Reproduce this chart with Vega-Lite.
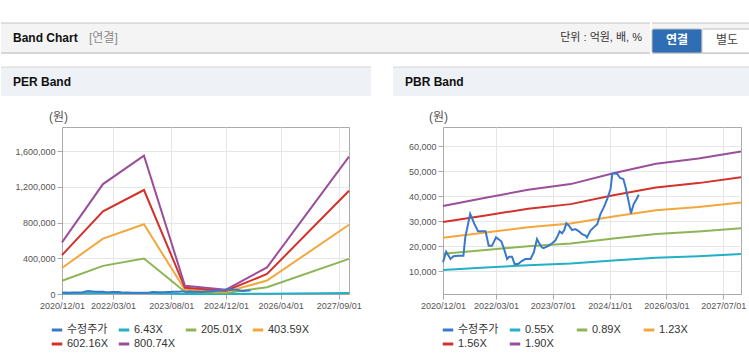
{
  "$schema": "https://vega.github.io/schema/vega-lite/v6.json",
  "background": "white",
  "padding": {"left": 0, "top": 22, "right": 0, "bottom": 0},
  "config": {
    "font": "Liberation Sans, Noto Sans CJK KR",
    "view": {"stroke": null},
    "axis": {
      "labelFont": "Liberation Sans, Noto Sans CJK KR",
      "labelFontSize": 9,
      "labelColor": "#555555",
      "labelOverlap": false,
      "labelSeparation": 0,
      "domainColor": "#aaaaaa",
      "tickColor": "#aaaaaa",
      "tickSize": 5,
      "gridColor": "#e6e6e6",
      "labelPadding": 2,
      "titleFont": "Liberation Sans, Noto Sans CJK KR",
      "titleFontSize": 12,
      "titleFontWeight": "normal",
      "titleColor": "#555555"
    },
    "legend": {
      "orient": "none",
      "direction": "horizontal",
      "columns": 4,
      "symbolType": "stroke",
      "symbolStrokeWidth": 3,
      "symbolSize": 110,
      "labelFont": "Liberation Sans, Noto Sans CJK KR",
      "labelFontSize": 11,
      "labelColor": "#333333",
      "labelOffset": 3,
      "gridAlign": "all",
      "columnPadding": 4,
      "rowPadding": 1
    }
  },
  "datasets": {
    "perBand": [
      {"date": "2020-12-01", "series": "6.43X", "value": 4649},
      {"date": "2021-12-01", "series": "6.43X", "value": 9896},
      {"date": "2022-12-01", "series": "6.43X", "value": 12448},
      {"date": "2023-12-01", "series": "6.43X", "value": 746},
      {"date": "2024-12-01", "series": "6.43X", "value": 386},
      {"date": "2025-12-01", "series": "6.43X", "value": 2398},
      {"date": "2027-12-01", "series": "6.43X", "value": 12365},
      {"date": "2020-12-01", "series": "205.01X", "value": 148222},
      {"date": "2021-12-01", "series": "205.01X", "value": 315510},
      {"date": "2022-12-01", "series": "205.01X", "value": 396899},
      {"date": "2023-12-01", "series": "205.01X", "value": 23781},
      {"date": "2024-12-01", "series": "205.01X", "value": 12301},
      {"date": "2025-12-01", "series": "205.01X", "value": 76469},
      {"date": "2027-12-01", "series": "205.01X", "value": 394234},
      {"date": "2020-12-01", "series": "403.59X", "value": 291796},
      {"date": "2021-12-01", "series": "403.59X", "value": 621125},
      {"date": "2022-12-01", "series": "403.59X", "value": 781350},
      {"date": "2023-12-01", "series": "403.59X", "value": 46816},
      {"date": "2024-12-01", "series": "403.59X", "value": 24215},
      {"date": "2025-12-01", "series": "403.59X", "value": 150539},
      {"date": "2027-12-01", "series": "403.59X", "value": 776104},
      {"date": "2020-12-01", "series": "602.16X", "value": 435362},
      {"date": "2021-12-01", "series": "602.16X", "value": 926724},
      {"date": "2022-12-01", "series": "602.16X", "value": 1165782},
      {"date": "2023-12-01", "series": "602.16X", "value": 69851},
      {"date": "2024-12-01", "series": "602.16X", "value": 36130},
      {"date": "2025-12-01", "series": "602.16X", "value": 224606},
      {"date": "2027-12-01", "series": "602.16X", "value": 1157954},
      {"date": "2020-12-01", "series": "800.74X", "value": 578935},
      {"date": "2021-12-01", "series": "800.74X", "value": 1232339},
      {"date": "2022-12-01", "series": "800.74X", "value": 1550233},
      {"date": "2023-12-01", "series": "800.74X", "value": 92886},
      {"date": "2024-12-01", "series": "800.74X", "value": 48044},
      {"date": "2025-12-01", "series": "800.74X", "value": 298676},
      {"date": "2027-12-01", "series": "800.74X", "value": 1539823}
    ],
    "pbrBand": [
      {"date": "2020-12-01", "series": "0.55X", "value": 10450},
      {"date": "2021-12-01", "series": "0.55X", "value": 11385},
      {"date": "2022-12-01", "series": "0.55X", "value": 12320},
      {"date": "2023-12-01", "series": "0.55X", "value": 12980},
      {"date": "2024-12-01", "series": "0.55X", "value": 14245},
      {"date": "2025-12-01", "series": "0.55X", "value": 15345},
      {"date": "2026-12-01", "series": "0.55X", "value": 15950},
      {"date": "2027-12-01", "series": "0.55X", "value": 16775},
      {"date": "2020-12-01", "series": "0.89X", "value": 16910},
      {"date": "2021-12-01", "series": "0.89X", "value": 18423},
      {"date": "2022-12-01", "series": "0.89X", "value": 19936},
      {"date": "2023-12-01", "series": "0.89X", "value": 21004},
      {"date": "2024-12-01", "series": "0.89X", "value": 23051},
      {"date": "2025-12-01", "series": "0.89X", "value": 24831},
      {"date": "2026-12-01", "series": "0.89X", "value": 25810},
      {"date": "2027-12-01", "series": "0.89X", "value": 27145},
      {"date": "2020-12-01", "series": "1.23X", "value": 23370},
      {"date": "2021-12-01", "series": "1.23X", "value": 25461},
      {"date": "2022-12-01", "series": "1.23X", "value": 27552},
      {"date": "2023-12-01", "series": "1.23X", "value": 29028},
      {"date": "2024-12-01", "series": "1.23X", "value": 31857},
      {"date": "2025-12-01", "series": "1.23X", "value": 34317},
      {"date": "2026-12-01", "series": "1.23X", "value": 35670},
      {"date": "2027-12-01", "series": "1.23X", "value": 37515},
      {"date": "2020-12-01", "series": "1.56X", "value": 29640},
      {"date": "2021-12-01", "series": "1.56X", "value": 32292},
      {"date": "2022-12-01", "series": "1.56X", "value": 34944},
      {"date": "2023-12-01", "series": "1.56X", "value": 36816},
      {"date": "2024-12-01", "series": "1.56X", "value": 40404},
      {"date": "2025-12-01", "series": "1.56X", "value": 43524},
      {"date": "2026-12-01", "series": "1.56X", "value": 45240},
      {"date": "2027-12-01", "series": "1.56X", "value": 47580},
      {"date": "2020-12-01", "series": "1.90X", "value": 36100},
      {"date": "2021-12-01", "series": "1.90X", "value": 39330},
      {"date": "2022-12-01", "series": "1.90X", "value": 42560},
      {"date": "2023-12-01", "series": "1.90X", "value": 44840},
      {"date": "2024-12-01", "series": "1.90X", "value": 49210},
      {"date": "2025-12-01", "series": "1.90X", "value": 53010},
      {"date": "2026-12-01", "series": "1.90X", "value": 55100},
      {"date": "2027-12-01", "series": "1.90X", "value": 57950}
    ],
    "price": [
      {"date": "2020-12-01", "series": "수정주가", "value": 13500},
      {"date": "2020-12-28", "series": "수정주가", "value": 17700},
      {"date": "2021-02-04", "series": "수정주가", "value": 14800},
      {"date": "2021-03-01", "series": "수정주가", "value": 15900},
      {"date": "2021-04-13", "series": "수정주가", "value": 16100},
      {"date": "2021-05-25", "series": "수정주가", "value": 16100},
      {"date": "2021-06-10", "series": "수정주가", "value": 23500},
      {"date": "2021-07-22", "series": "수정주가", "value": 32900},
      {"date": "2021-08-28", "series": "수정주가", "value": 28800},
      {"date": "2021-09-28", "series": "수정주가", "value": 25900},
      {"date": "2021-12-01", "series": "수정주가", "value": 25900},
      {"date": "2021-12-28", "series": "수정주가", "value": 20100},
      {"date": "2022-01-25", "series": "수정주가", "value": 20100},
      {"date": "2022-03-01", "series": "수정주가", "value": 23500},
      {"date": "2022-04-15", "series": "수정주가", "value": 21900},
      {"date": "2022-05-04", "series": "수정주가", "value": 19500},
      {"date": "2022-06-04", "series": "수정주가", "value": 14800},
      {"date": "2022-06-22", "series": "수정주가", "value": 15700},
      {"date": "2022-07-16", "series": "수정주가", "value": 15700},
      {"date": "2022-08-07", "series": "수정주가", "value": 12800},
      {"date": "2022-09-07", "series": "수정주가", "value": 12800},
      {"date": "2022-10-10", "series": "수정주가", "value": 14100},
      {"date": "2022-11-07", "series": "수정주가", "value": 14800},
      {"date": "2022-12-22", "series": "수정주가", "value": 14800},
      {"date": "2023-01-19", "series": "수정주가", "value": 17500},
      {"date": "2023-02-15", "series": "수정주가", "value": 22800},
      {"date": "2023-03-01", "series": "수정주가", "value": 21500},
      {"date": "2023-03-28", "series": "수정주가", "value": 19500},
      {"date": "2023-04-12", "series": "수정주가", "value": 19200},
      {"date": "2023-05-25", "series": "수정주가", "value": 20100},
      {"date": "2023-06-25", "series": "수정주가", "value": 21100},
      {"date": "2023-07-22", "series": "수정주가", "value": 22200},
      {"date": "2023-08-13", "series": "수정주가", "value": 24200},
      {"date": "2023-08-28", "series": "수정주가", "value": 25900},
      {"date": "2023-09-19", "series": "수정주가", "value": 25100},
      {"date": "2023-10-07", "series": "수정주가", "value": 26400},
      {"date": "2023-10-25", "series": "수정주가", "value": 29100},
      {"date": "2023-11-16", "series": "수정주가", "value": 28200},
      {"date": "2023-12-13", "series": "수정주가", "value": 26400},
      {"date": "2024-01-10", "series": "수정주가", "value": 26800},
      {"date": "2024-02-10", "series": "수정주가", "value": 25900},
      {"date": "2024-03-07", "series": "수정주가", "value": 24800},
      {"date": "2024-04-07", "series": "수정주가", "value": 24200},
      {"date": "2024-04-19", "series": "수정주가", "value": 23500},
      {"date": "2024-05-19", "series": "수정주가", "value": 26200},
      {"date": "2024-06-16", "series": "수정주가", "value": 27500},
      {"date": "2024-07-16", "series": "수정주가", "value": 28800},
      {"date": "2024-08-13", "series": "수정주가", "value": 32900},
      {"date": "2024-09-10", "series": "수정주가", "value": 35500},
      {"date": "2024-10-10", "series": "수정주가", "value": 38900},
      {"date": "2024-11-07", "series": "수정주가", "value": 42900},
      {"date": "2024-11-22", "series": "수정주가", "value": 48900},
      {"date": "2024-12-07", "series": "수정주가", "value": 49200},
      {"date": "2025-01-04", "series": "수정주가", "value": 48900},
      {"date": "2025-01-28", "series": "수정주가", "value": 47300},
      {"date": "2025-02-25", "series": "수정주가", "value": 46900},
      {"date": "2025-03-16", "series": "수정주가", "value": 43600},
      {"date": "2025-04-13", "series": "수정주가", "value": 37500},
      {"date": "2025-05-01", "series": "수정주가", "value": 33100},
      {"date": "2025-05-25", "series": "수정주가", "value": 36900},
      {"date": "2025-06-19", "series": "수정주가", "value": 38900},
      {"date": "2025-07-07", "series": "수정주가", "value": 40600}
    ]
  },
  "spacing": 12,
  "vconcat": [
    {
      "spacing": 0,
      "hconcat": [
        {
          "width": 649,
          "height": 30,
          "view": {"fill": "#f4f4f4", "stroke": null},
          "layer": [
            {
              "data": {"values": [{"edge": "top"}]},
              "mark": {"type": "rule", "color": "#c4c4c4", "strokeWidth": 1},
              "encoding": {"y": {"datum": 1, "type": "quantitative", "scale": {"domain": [0, 1]}, "axis": null}}
            },
            {
              "data": {"values": [{"edge": "bottom"}]},
              "mark": {"type": "rule", "color": "#d6d6d6", "strokeWidth": 2},
              "encoding": {"y": {"datum": 0, "type": "quantitative", "scale": {"domain": [0, 1]}, "axis": null}}
            },
            {
              "data": {"values": [{"label": "Band Chart"}]},
              "mark": {"type": "text", "align": "left", "baseline": "middle", "dx": 12, "fontSize": 12, "fontWeight": "bold", "color": "#111111"},
              "encoding": {
                "x": {"datum": 0, "type": "quantitative", "scale": {"domain": [0, 1]}, "axis": null},
                "text": {"field": "label"}
              }
            },
            {
              "data": {"values": [{"label": "[연결]"}]},
              "mark": {"type": "text", "align": "left", "baseline": "middle", "dx": 88, "fontSize": 12, "color": "#8a8a8a"},
              "encoding": {
                "x": {"datum": 0, "type": "quantitative", "scale": {"domain": [0, 1]}, "axis": null},
                "text": {"field": "label"}
              }
            },
            {
              "data": {"values": [{"label": "단위 : 억원, 배, %"}]},
              "mark": {"type": "text", "align": "right", "baseline": "middle", "dx": -8, "fontSize": 11, "color": "#333333"},
              "encoding": {
                "x": {"datum": 1, "type": "quantitative", "scale": {"domain": [0, 1]}, "axis": null},
                "text": {"field": "label"}
              }
            }
          ]
        },
        {
          "width": 100,
          "height": 30,
          "view": {"fill": "#f4f4f4", "stroke": null},
          "layer": [
            {
              "data": {"values": [{"edge": "top"}]},
              "mark": {"type": "rule", "color": "#c4c4c4", "strokeWidth": 1},
              "encoding": {"y": {"datum": 1, "type": "quantitative", "scale": {"domain": [0, 1]}, "axis": null}}
            },
            {
              "data": {"values": [{"edge": "bottom"}]},
              "mark": {"type": "rule", "color": "#d6d6d6", "strokeWidth": 2},
              "encoding": {"y": {"datum": 0, "type": "quantitative", "scale": {"domain": [0, 1]}, "axis": null}}
            },
            {
              "data": {"values": [{"button": "연결", "on": "y"}, {"button": "별도", "on": "n"}]},
              "mark": {"type": "rect", "yOffset": 6, "y2Offset": -3, "stroke": "#bdbdbd", "strokeWidth": 1, "cornerRadius": 2},
              "encoding": {
                "x": {"field": "button", "type": "nominal", "sort": null, "scale": {"domain": ["연결", "별도"], "paddingInner": 0, "paddingOuter": 0}, "axis": null},
                "fill": {"field": "on", "type": "nominal", "scale": {"domain": ["y", "n"], "range": ["#2f6db5", "#ffffff"]}, "legend": null}
              }
            },
            {
              "data": {"values": [{"button": "연결", "on": "y"}]},
              "mark": {"type": "text", "baseline": "middle", "dy": 2, "fontSize": 12, "fontWeight": "bold", "color": "#ffffff"},
              "encoding": {
                "x": {"field": "button", "type": "nominal", "sort": null, "scale": {"domain": ["연결", "별도"], "paddingInner": 0, "paddingOuter": 0}, "axis": null},
                "text": {"field": "button"}
              }
            },
            {
              "data": {"values": [{"button": "별도", "on": "n"}]},
              "mark": {"type": "text", "baseline": "middle", "dy": 2, "fontSize": 12, "color": "#444444"},
              "encoding": {
                "x": {"field": "button", "type": "nominal", "sort": null, "scale": {"domain": ["연결", "별도"], "paddingInner": 0, "paddingOuter": 0}, "axis": null},
                "text": {"field": "button"}
              }
            }
          ]
        }
      ]
    },
    {
      "spacing": 20,
      "resolve": {"scale": {"color": "independent"}, "legend": {"color": "independent"}},
      "hconcat": [
        {
          "spacing": 13,
          "resolve": {"scale": {"color": "independent"}, "legend": {"color": "independent"}},
          "vconcat": [
            {
              "width": 370,
              "height": 29,
              "view": {"fill": "#eef2f7", "stroke": null},
              "layer": [
                {
                  "data": {"values": [{"edge": "top"}]},
                  "mark": {"type": "rule", "color": "#d4d4d4", "strokeWidth": 1},
                  "encoding": {"y": {"datum": 1, "type": "quantitative", "scale": {"domain": [0, 1]}, "axis": null}}
                },
                {
                  "data": {"values": [{"label": "PER Band"}]},
                  "mark": {"type": "text", "align": "left", "baseline": "middle", "dx": 12, "fontSize": 12, "fontWeight": "bold", "color": "#111111"},
                  "encoding": {
                    "x": {"datum": 0, "type": "quantitative", "scale": {"domain": [0, 1]}, "axis": null},
                    "text": {"field": "label"}
                  }
                }
              ]
            },
            {
              "spacing": 0,
              "resolve": {"scale": {"color": "independent"}, "legend": {"color": "independent"}},
              "hconcat": [
                {
                  "width": 1,
                  "height": 1,
                  "data": {"values": [{"gap": ""}]},
                  "mark": {"type": "text"},
                  "encoding": {"text": {"field": "gap"}}
                },
                {
                  "width": 287,
                  "height": 167,
                  "view": {"stroke": "#aaaaaa", "fill": "#ffffff"},
                  "encoding": {
                    "x": {
                      "field": "date", "type": "temporal",
                      "scale": {"domain": [{"year": 2020, "month": 12, "date": 1}, {"year": 2027, "month": 12, "date": 1}]},
                      "axis": {
                        "title": null, "format": "%Y/%m/%d", "grid": true, "labelFlush": false, "labelOverlap": false,
                        "values": [
                          {"year": 2020, "month": 12, "date": 1}, {"year": 2022, "month": 3, "date": 1},
                          {"year": 2023, "month": 8, "date": 1}, {"year": 2024, "month": 12, "date": 1},
                          {"year": 2026, "month": 4, "date": 1}, {"year": 2027, "month": 9, "date": 1}
                        ]
                      }
                    },
                    "y": {
                      "field": "value", "type": "quantitative",
                      "scale": {"domain": [0, 1872000], "nice": false},
                      "axis": {
                        "title": "(원)", "titleAngle": 0, "titleX": -4, "titleY": -4, "titleAlign": "center", "titleBaseline": "bottom",
                        "values": [0, 400000, 800000, 1200000, 1600000], "format": ",d", "grid": true, "minExtent": 59, "labelOverlap": false
                      }
                    },
                    "color": {
                      "field": "series", "type": "nominal",
                      "scale": {"domain": ["수정주가", "6.43X", "205.01X", "403.59X", "602.16X", "800.74X"], "range": ["#3a78c8", "#22b0c5", "#8db556", "#f3a73c", "#d3312b", "#9a4f9b"]},
                      "legend": {"title": null, "gridAlign": "all", "orient": "none", "direction": "horizontal", "legendX": -12, "legendY": 196}
                    }
                  },
                  "layer": [
                    {"data": {"name": "perBand"}, "mark": {"type": "line", "strokeWidth": 2}},
                    {"data": {"name": "price"}, "mark": {"type": "line", "strokeWidth": 2}}
                  ]
                }
              ]
            }
          ]
        },
        {
          "spacing": 13,
          "resolve": {"scale": {"color": "independent"}, "legend": {"color": "independent"}},
          "vconcat": [
            {
              "width": 359,
              "height": 29,
              "view": {"fill": "#eef2f7", "stroke": null},
              "layer": [
                {
                  "data": {"values": [{"edge": "top"}]},
                  "mark": {"type": "rule", "color": "#d4d4d4", "strokeWidth": 1},
                  "encoding": {"y": {"datum": 1, "type": "quantitative", "scale": {"domain": [0, 1]}, "axis": null}}
                },
                {
                  "data": {"values": [{"label": "PBR Band"}]},
                  "mark": {"type": "text", "align": "left", "baseline": "middle", "dx": 12, "fontSize": 12, "fontWeight": "bold", "color": "#111111"},
                  "encoding": {
                    "x": {"datum": 0, "type": "quantitative", "scale": {"domain": [0, 1]}, "axis": null},
                    "text": {"field": "label"}
                  }
                }
              ]
            },
            {
              "spacing": 0,
              "resolve": {"scale": {"color": "independent"}, "legend": {"color": "independent"}},
              "hconcat": [
                {
                  "width": 1,
                  "height": 1,
                  "data": {"values": [{"gap": ""}]},
                  "mark": {"type": "text"},
                  "encoding": {"text": {"field": "gap"}}
                },
                {
                  "width": 298,
                  "height": 167,
                  "view": {"stroke": "#aaaaaa", "fill": "#ffffff"},
                  "encoding": {
                    "x": {
                      "field": "date", "type": "temporal",
                      "scale": {"domain": [{"year": 2020, "month": 12, "date": 1}, {"year": 2027, "month": 12, "date": 1}]},
                      "axis": {
                        "title": null, "format": "%Y/%m/%d", "grid": true, "labelFlush": false, "labelOverlap": false,
                        "values": [
                          {"year": 2020, "month": 12, "date": 1}, {"year": 2022, "month": 3, "date": 1},
                          {"year": 2023, "month": 7, "date": 1}, {"year": 2024, "month": 11, "date": 1},
                          {"year": 2026, "month": 3, "date": 1}, {"year": 2027, "month": 7, "date": 1}
                        ]
                      }
                    },
                    "y": {
                      "field": "value", "type": "quantitative",
                      "scale": {"domain": [780, 67740], "nice": false, "zero": false},
                      "axis": {
                        "title": "(원)", "titleAngle": 0, "titleX": -5, "titleY": -4, "titleAlign": "center", "titleBaseline": "bottom",
                        "values": [10000, 20000, 30000, 40000, 50000, 60000], "format": ",d", "grid": true, "minExtent": 48, "labelOverlap": false, "labelSeparation": 0
                      }
                    },
                    "color": {
                      "field": "series", "type": "nominal",
                      "scale": {"domain": ["수정주가", "0.55X", "0.89X", "1.23X", "1.56X", "1.90X"], "range": ["#3a78c8", "#22b0c5", "#8db556", "#f3a73c", "#d3312b", "#9a4f9b"]},
                      "legend": {"title": null, "gridAlign": "all", "orient": "none", "direction": "horizontal", "legendX": -2, "legendY": 196}
                    }
                  },
                  "layer": [
                    {"data": {"name": "pbrBand"}, "mark": {"type": "line", "strokeWidth": 2}},
                    {"data": {"name": "price"}, "mark": {"type": "line", "strokeWidth": 2}}
                  ]
                }
              ]
            }
          ]
        }
      ]
    }
  ]
}
